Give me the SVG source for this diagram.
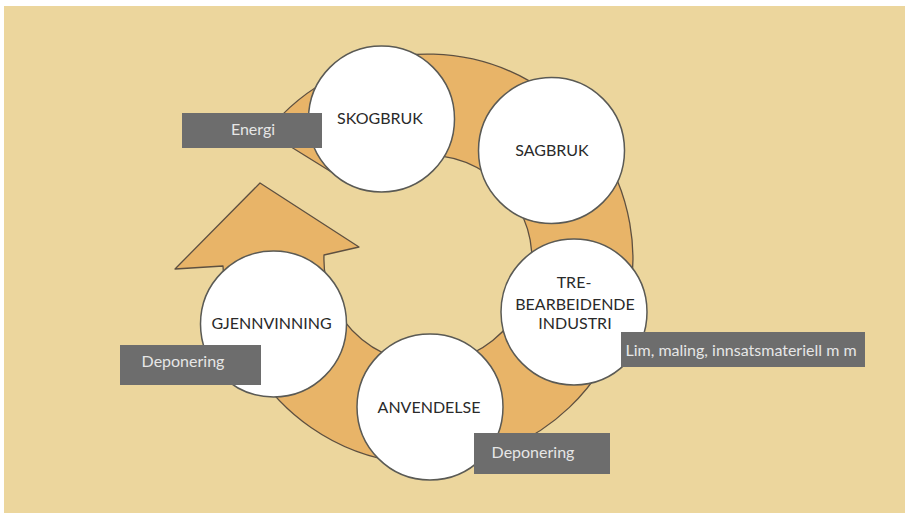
<svg xmlns="http://www.w3.org/2000/svg" width="905" height="513" viewBox="0 0 905 513">
<style>
.ring{fill:#E8B468;stroke:#5E5040;stroke-width:1.3;stroke-linejoin:round}
.node{fill:#FFFFFF;stroke:#5A5A55;stroke-width:1.5}
.lbl{font-family:Lato,"Liberation Sans",sans-serif;font-size:16px;fill:#2A2A2A;text-anchor:middle}
.box{fill:#6D6D6D}
.btxt{font-family:Lato,"Liberation Sans",sans-serif;font-size:16px;fill:#E6E6E6;text-anchor:middle}
</style>
<rect x="0" y="0" width="905" height="513" fill="#FFFFFF"/>
<rect x="4" y="6" width="901" height="507" fill="#ECD69D"/>
<g id="connectors">
<path class="ring" d="M 267,132 A 205 205 0 1 1 223,266 L 175,269 L 260,183 L 359,247 L 324,255 A 104 104 0 1 0 354,186 Z"/>
</g>
<g id="skogbruk">
<circle class="node" cx="381.5" cy="119" r="73"/>
<text class="lbl" x="380" y="124">SKOGBRUK</text>
</g>
<g id="sagbruk">
<circle class="node" cx="551.5" cy="150.5" r="73"/>
<text class="lbl" x="552" y="156">SAGBRUK</text>
</g>
<g id="trebearbeidende">
<circle class="node" cx="574" cy="312" r="73"/>
<text class="lbl" x="574" y="288">TRE-</text>
<text class="lbl" x="575" y="310">BEARBEIDENDE</text>
<text class="lbl" x="575" y="329">INDUSTRI</text>
</g>
<g id="anvendelse">
<circle class="node" cx="430" cy="407" r="73"/>
<text class="lbl" x="429" y="413">ANVENDELSE</text>
</g>
<g id="gjennvinning">
<circle class="node" cx="273.5" cy="324" r="73"/>
<text class="lbl" x="271.5" y="329">GJENNVINNING</text>
</g>
<g id="energi">
<rect class="box" x="182" y="113" width="140" height="35"/>
<text class="btxt" x="253" y="135">Energi</text>
</g>
<g id="lim">
<rect class="box" x="621" y="332" width="244" height="35"/>
<text class="btxt" x="741" y="356">Lim, maling, innsatsmateriell m m</text>
</g>
<g id="deponering1">
<rect class="box" x="120" y="345" width="141" height="40"/>
<text class="btxt" x="183" y="367">Deponering</text>
</g>
<g id="deponering2">
<rect class="box" x="474" y="433" width="136" height="41"/>
<text class="btxt" x="533" y="458">Deponering</text>
</g>
</svg>
